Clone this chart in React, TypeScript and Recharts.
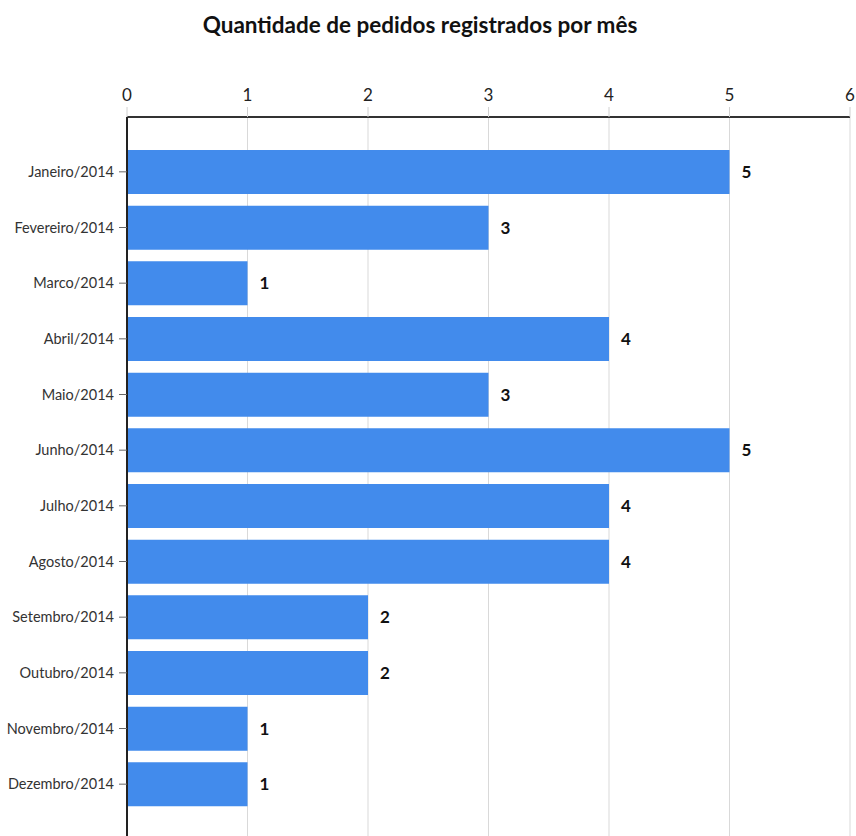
import React from 'react'
import { BarChart, Bar, XAxis, YAxis, CartesianGrid, LabelList } from 'recharts'

const months = [
  'Janeiro/2014', 'Fevereiro/2014', 'Marco/2014', 'Abril/2014', 'Maio/2014', 'Junho/2014',
  'Julho/2014', 'Agosto/2014', 'Setembro/2014', 'Outubro/2014', 'Novembro/2014', 'Dezembro/2014',
]
const pedidos = [5, 3, 1, 4, 3, 5, 4, 4, 2, 2, 1, 1]
const xTicks = [0, 1, 2, 3, 4, 5, 6]

const data = months.map((m, i) => ({ mes: m, qtd: pedidos[i] }))

const font = 'Lato, "Open Sans", sans-serif'

export default function App() {
  return (
    <div style={{ position: 'absolute', left: 0, top: 0, width: 856, height: 836, overflow: 'hidden', background: 'white', fontFamily: font }}>
      <div style={{ position: 'absolute', top: 11, left: 0, width: 840, textAlign: 'center', fontSize: 22.5, fontWeight: 700, color: '#111' }}>
        Quantidade de pedidos registrados por mês
      </div>
      <BarChart
        width={856}
        height={836}
        data={data}
        layout="vertical"
        margin={{ top: 0, right: 6, bottom: 0, left: 0 }}
        barSize={44}
      >
        <CartesianGrid horizontal={false} stroke="#d9d9d9" />
        <XAxis
          type="number"
          orientation="top"
          domain={[0, 6]}
          ticks={xTicks}
          height={117}
          axisLine={{ stroke: '#333', strokeWidth: 2 }}
          tickLine={{ stroke: '#d0d0d0' }}
          tickSize={10}
          tickMargin={6}
          tick={{ fontSize: 17, fill: '#222', fontFamily: font }}
        />
        <YAxis
          type="category"
          dataKey="mes"
          width={127}
          padding={{ top: 27, bottom: 24 }}
          axisLine={{ stroke: '#222', strokeWidth: 2 }}
          tickLine={{ stroke: '#666' }}
          tickSize={8}
          tickMargin={5}
          tick={{ fontSize: 14.5, fill: '#333', fontFamily: font }}
        />
        <Bar dataKey="qtd" fill="#428bec" isAnimationActive={false}>
          <LabelList dataKey="qtd" position="right" offset={12} style={{ fontSize: 17, fontWeight: 700, fill: '#111', fontFamily: font }} />
        </Bar>
      </BarChart>
    </div>
  )
}
